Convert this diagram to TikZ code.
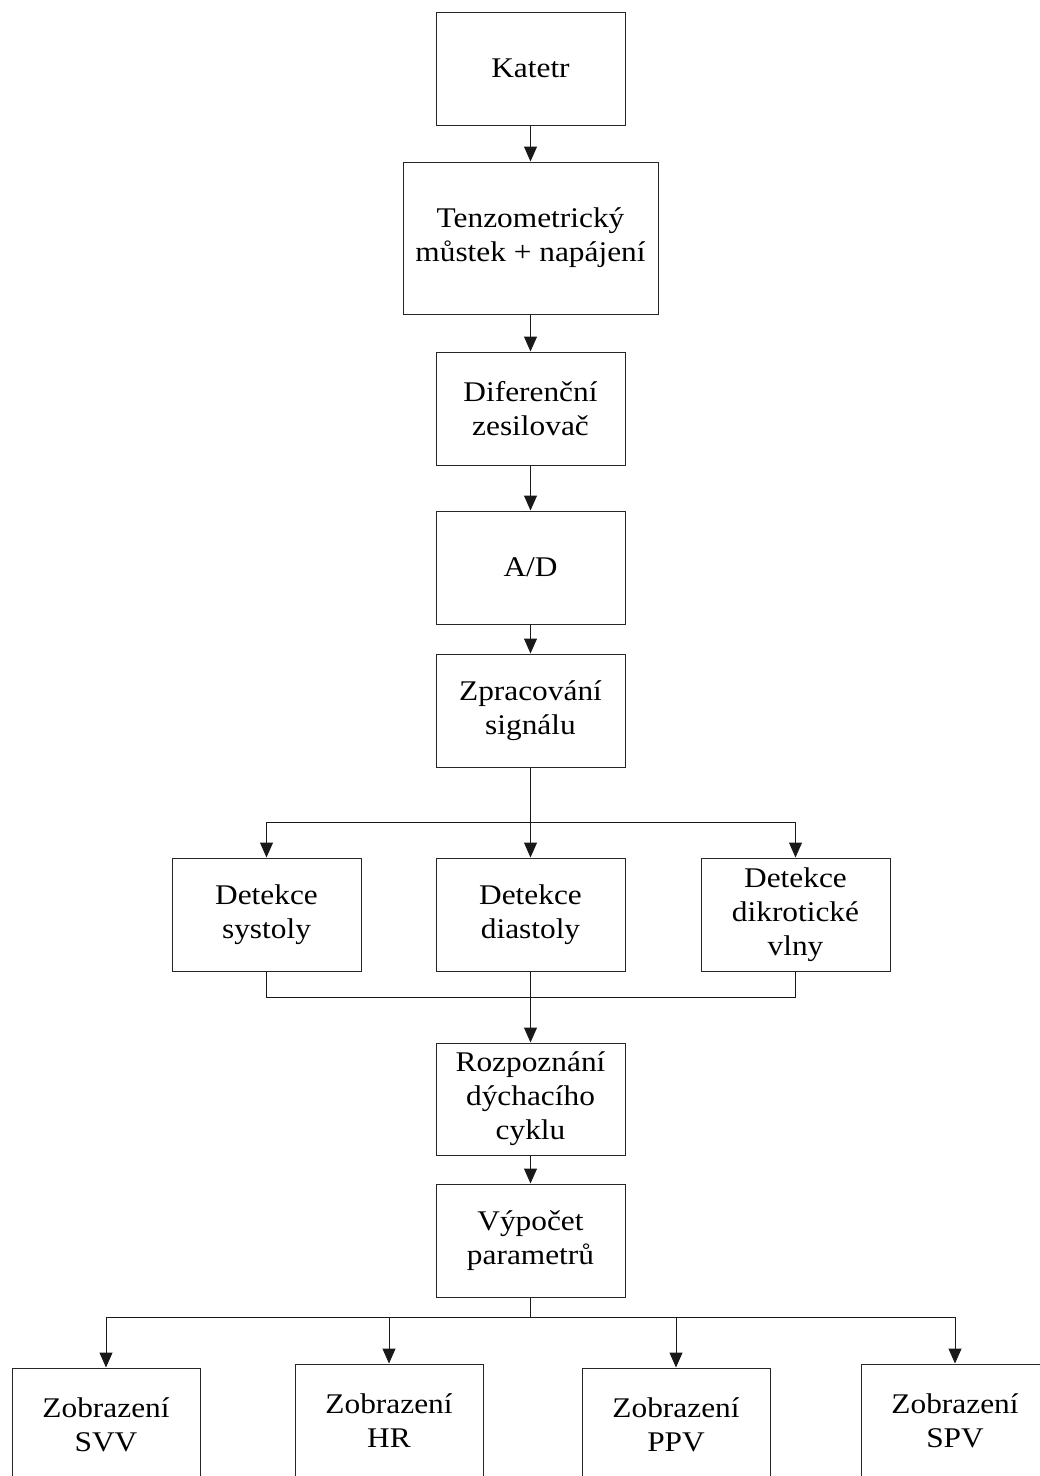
\documentclass[tikz,border=0pt]{standalone}
\usepackage{fontspec}
\setmainfont{Liberation Serif}[FakeStretch=1.1]
\usetikzlibrary{arrows.meta}
\begin{document}
\begin{tikzpicture}[x=1pt,y=-1pt,
  box/.style={draw=black!85,line width=1pt,rectangle,inner sep=0pt,align=center,
    minimum width=189pt,minimum height=113pt,font=\fontsize{28.5}{34}\selectfont},
  conn/.style={draw=black!90,line width=1pt},
  arr/.style={conn,-{Triangle[length=15pt,width=13pt]}}]
\useasboundingbox (0,0) rectangle (1040,1476);
\node[box] (kat) at (530.5,68.5) {Katetr};
\node[box,minimum width=255pt,minimum height=152pt] (ten) at (530.5,238) {Tenzometrický\\můstek + napájení};
\node[box] (dif) at (530.5,408.5) {Diferenční\\zesilovač};
\node[box] (ad) at (530.5,567.5) {A/D};
\node[box] (zpr) at (530.5,710.5) {Zpracování\\signálu};
\node[box] (sys) at (266.5,914.5) {Detekce\\systoly};
\node[box] (dia) at (530.5,914.5) {Detekce\\diastoly};
\node[box] (dik) at (795.5,914.5) {Detekce\\dikrotické\\vlny};
\node[box,minimum height=112pt] (roz) at (530.5,1099) {Rozpoznání\\dýchacího\\cyklu};
\node[box] (vyp) at (530.5,1240.5) {Výpočet\\parametrů};
\node[box,minimum width=188pt] (svv) at (106,1424.5) {Zobrazení\\SVV};
\node[box,minimum width=188pt] (hr) at (389,1420.5) {Zobrazení\\HR};
\node[box,minimum width=188pt] (ppv) at (676,1424.5) {Zobrazení\\PPV};
\node[box,minimum width=188pt] (spv) at (955,1420.5) {Zobrazení\\SPV};
\coordinate (s1) at (530.5,822);
\coordinate (m1) at (530.5,997);
\coordinate (s2) at (530.5,1317);
\draw[arr] (kat.south) -- (ten.north);
\draw[arr] (ten.south) -- (dif.north);
\draw[arr] (dif.south) -- (ad.north);
\draw[arr] (ad.south) -- (zpr.north);
\draw[arr] (zpr.south) -- (dia.north);
\draw[arr] (s1) -| (sys.north);
\draw[arr] (s1) -| (dik.north);
\draw[conn] (sys.south) |- (m1);
\draw[conn] (dik.south) |- (m1);
\draw[arr] (dia.south) -- (roz.north);
\draw[arr] (roz.south) -- (vyp.north);
\draw[conn] (vyp.south) -- (s2);
\draw[arr] (s2) -| (svv.north);
\draw[arr] (s2) -| (hr.north);
\draw[arr] (s2) -| (ppv.north);
\draw[arr] (s2) -| (spv.north);
\end{tikzpicture}
\end{document}
